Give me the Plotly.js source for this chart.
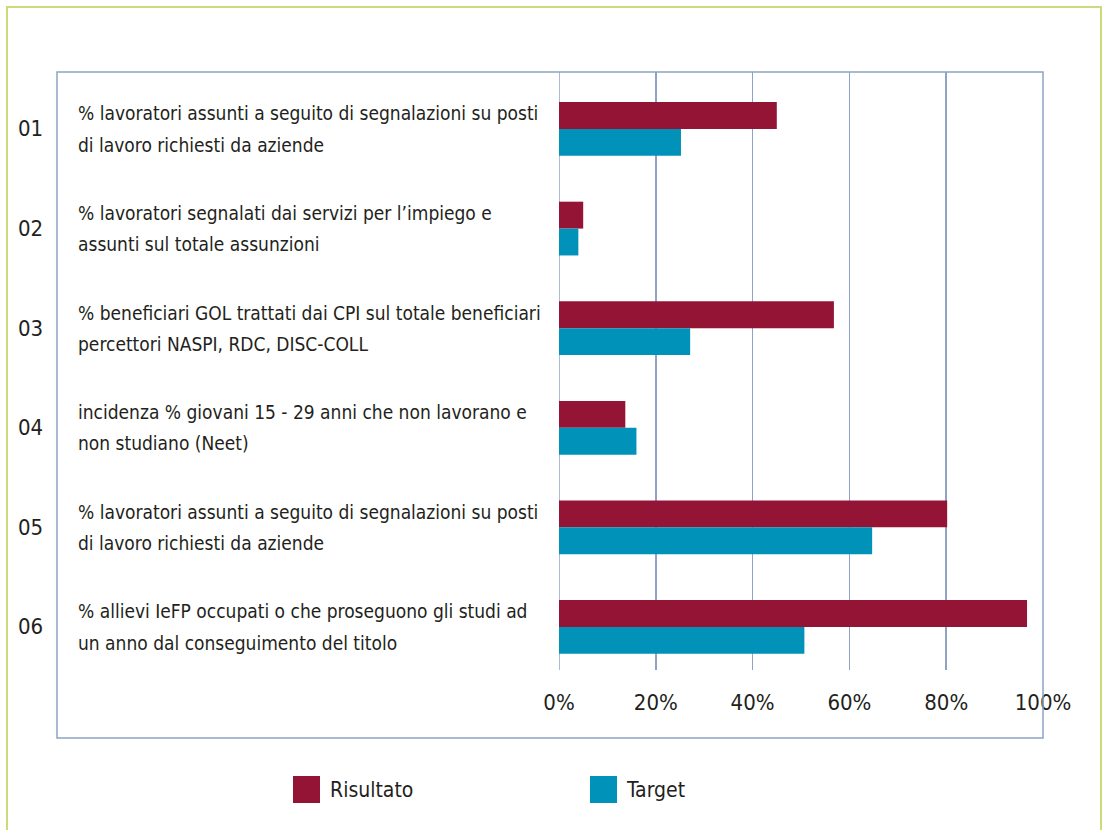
<!DOCTYPE html>
<html>
<head>
<meta charset="utf-8">
<script src="https://cdn.plot.ly/plotly-3.0.1.min.js"></script>
<style>html,body{margin:0;padding:0;background:#fff;}#chart{width:1104px;height:830px;}</style>
</head>
<body>
<div id="chart"></div>
<script>
const codes = ['01', '02', '03', '04', '05', '06'];
const labels = [
  '% lavoratori assunti a seguito di segnalazioni su posti|di lavoro richiesti da aziende',
  '% lavoratori segnalati dai servizi per l\u2019impiego e|assunti sul totale assunzioni',
  '% beneficiari GOL trattati dai CPI sul totale beneficiari|percettori NASPI, RDC, DISC-COLL',
  'incidenza % giovani 15 - 29 anni che non lavorano e|non studiano (Neet)',
  '% lavoratori assunti a seguito di segnalazioni su posti|di lavoro richiesti da aziende',
  '% allievi IeFP occupati o che proseguono gli studi ad|un anno dal conseguimento del titolo'
];
const risultato = [45.0, 5.0, 56.8, 13.7, 80.2, 96.7];
const target = [25.2, 4.0, 27.1, 16.0, 64.7, 50.7];
const seriesNames = ['Risultato', 'Target'];
const colors = ['#931434', '#0092b9'];
const xTicks = [0, 20, 40, 60, 80, 100];

const FONT = '"Liberation Sans Narrow", "Arial Narrow", "DejaVu Sans Condensed", "Roboto Condensed", sans-serif';
const TXT = '#231f20';
const GRID = '#8fa4c4';

// plot area in pixels: x 559..1043, y 72..670
const L = 559, R = 1043, T = 72, B = 670;
const W = R - L, H = B - T;
const px = x => (x - L) / W;
const py = y => (B - y) / H;

const traces = [
  {type: 'bar', orientation: 'h', name: seriesNames[0], y: codes, x: risultato,
   marker: {color: colors[0]}, hoverinfo: 'x+name'},
  {type: 'bar', orientation: 'h', name: seriesNames[1], y: codes, x: target,
   marker: {color: colors[1]}, hoverinfo: 'x+name'}
];

const annotations = [];
codes.forEach((c, i) => {
  annotations.push({xref: 'paper', yref: 'y', x: px(30), y: i, text: c, showarrow: false,
    xanchor: 'center', yanchor: 'middle', font: {family: FONT, size: 22, color: TXT}});
  const lines = labels[i].split('|');
  lines.forEach((ln, k) => {
    annotations.push({xref: 'paper', yref: 'y', x: px(76), y: i + (k === 0 ? -0.156 : 0.156),
      text: ln, showarrow: false, xanchor: 'left', yanchor: 'middle',
      font: {family: FONT, size: 19, color: TXT}});
  });
});
// legend texts
annotations.push({xref: 'paper', yref: 'paper', x: px(328), y: py(790), text: seriesNames[0],
  showarrow: false, xanchor: 'left', yanchor: 'middle', font: {family: FONT, size: 21, color: TXT}});
annotations.push({xref: 'paper', yref: 'paper', x: px(624), y: py(790), text: seriesNames[1],
  showarrow: false, xanchor: 'left', yanchor: 'middle', font: {family: FONT, size: 21, color: TXT}});

const shapes = [
  // outer green frame
  {type: 'rect', xref: 'paper', yref: 'paper', x0: px(7), x1: px(1101), y0: py(7), y1: py(860),
   line: {color: '#cdd97a', width: 2}, fillcolor: 'rgba(0,0,0,0)'},
  // inner box
  {type: 'rect', xref: 'paper', yref: 'paper', x0: px(57), x1: px(1043), y0: py(72), y1: py(738),
   line: {color: GRID, width: 1.5}, fillcolor: 'rgba(0,0,0,0)'},
  // 0% gridline
  {type: 'line', xref: 'x', yref: 'paper', x0: 0, x1: 0, y0: 0, y1: 1,
   line: {color: GRID, width: 1.5}, layer: 'below'},
  // legend squares
  {type: 'rect', xref: 'paper', yref: 'paper', x0: px(293), x1: px(320), y0: py(776), y1: py(803),
   line: {width: 0}, fillcolor: colors[0]},
  {type: 'rect', xref: 'paper', yref: 'paper', x0: px(590), x1: px(617), y0: py(776), y1: py(803),
   line: {width: 0}, fillcolor: colors[1]}
];

const layout = {
  width: 1104, height: 830,
  margin: {l: L, r: 1104 - R, t: T, b: 830 - B, pad: 0},
  paper_bgcolor: '#ffffff', plot_bgcolor: '#ffffff',
  barmode: 'group', bargap: 0.46, bargroupgap: 0,
  showlegend: false,
  xaxis: {
    range: [0, 100], tickvals: xTicks, ticktext: xTicks.map(v => v + '%'),
    showgrid: true, gridcolor: GRID, gridwidth: 1.5, zeroline: false,
    showline: false, ticks: 'outside', ticklen: 13, tickcolor: 'rgba(0,0,0,0)',
    tickfont: {family: FONT, size: 22, color: TXT}, fixedrange: true
  },
  yaxis: {
    type: 'category', categoryarray: codes, range: [5.432, -0.572],
    showticklabels: false, showgrid: false, zeroline: false, showline: false, fixedrange: true
  },
  annotations: annotations,
  shapes: shapes,
  font: {family: FONT, color: TXT}
};

Plotly.newPlot('chart', traces, layout, {displayModeBar: false, staticPlot: true});
</script>
</body>
</html>
